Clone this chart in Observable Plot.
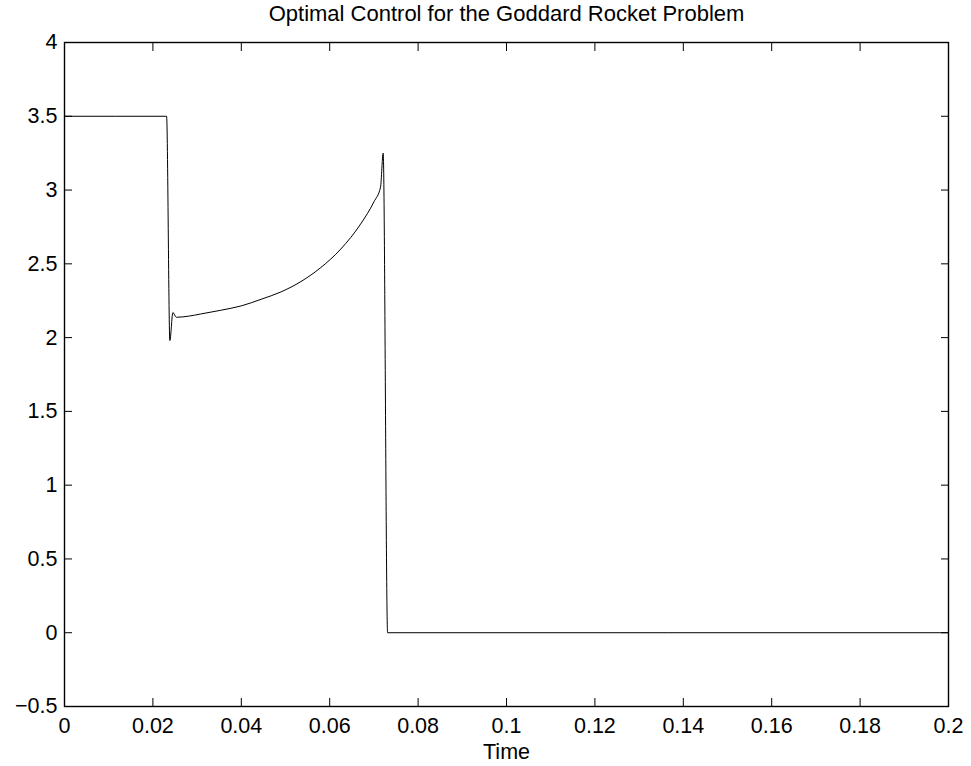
<!DOCTYPE html>
<html>
<head>
<meta charset="utf-8">
<script src="https://cdn.jsdelivr.net/npm/d3@7"></script>
<script src="https://cdn.jsdelivr.net/npm/@observablehq/plot@0.6"></script>
<style>
  html, body { margin: 0; padding: 0; background: #fff; }
  #chart { width: 971px; height: 766px; }
  #chart svg, #chart svg text { font-family: 'Liberation Sans', Arial, sans-serif; }
  #chart svg g[aria-label^="x-axis tick label"], #chart svg g[aria-label^="y-axis tick label"] { font-size: 21.5px; }
</style>
</head>
<body>
<div id="chart"></div>
<script>
const titleText = "Optimal Control for the Goddard Rocket Problem";
const xLabel = "Time";
const xTicks = [0, 0.02, 0.04, 0.06, 0.08, 0.1, 0.12, 0.14, 0.16, 0.18, 0.2];
const yTicks = [-0.5, 0, 0.5, 1, 1.5, 2, 2.5, 3, 3.5, 4];

const times = [0, 0.0231, 0.02384, 0.02452, 0.02529, 0.0280, 0.0308, 0.0353, 0.0400, 0.0445, 0.0490, 0.0535, 0.0580, 0.0625, 0.0670, 0.0700, 0.0715, 0.0721, 0.0731, 0.2];
const control = [3.5, 3.5, 1.98, 2.17, 2.138, 2.145, 2.16, 2.185, 2.215, 2.26, 2.31, 2.38, 2.475, 2.60, 2.77, 2.92, 3.02, 3.25, 0, 0];

const data = times.map((t, i) => ({t, u: control[i]}));

const fmtX = d => String(+d.toFixed(2));
const fmtY = d => (d < 0 ? "\u2212" : "") + String(Math.abs(d));

const plot = Plot.plot({
  width: 971,
  height: 766,
  marginLeft: 64,
  marginRight: 23,
  marginTop: 42,
  marginBottom: 60,
  style: {fontFamily: "'Liberation Sans', Arial, sans-serif", fontSize: "22px", color: "#000", background: "#fff"},
  x: {domain: [0, 0.2]},
  y: {domain: [-0.5, 4]},
  marks: [
    Plot.axisX({anchor: "bottom", ticks: xTicks, tickFormat: fmtX, tickSize: -8, tickPadding: 19, label: null, fontSize: 21.5}),
    Plot.axisX({anchor: "top", ticks: xTicks, tickFormat: () => "", tickSize: -8, label: null}),
    Plot.axisY({anchor: "left", ticks: yTicks, tickFormat: fmtY, tickSize: -8, tickPadding: 15, label: null, fontSize: 21.5}),
    Plot.axisY({anchor: "right", ticks: yTicks, tickFormat: () => "", tickSize: -8, label: null}),
    Plot.frame({stroke: "#000", strokeWidth: 1.4}),
    Plot.line(data, {x: "t", y: "u", stroke: "#000", strokeWidth: 1, curve: "monotone-x"}),
    Plot.text([titleText], {frameAnchor: "top", dy: -37, text: d => d, fontSize: 22, fill: "#000"}),
    Plot.text([xLabel], {frameAnchor: "bottom", lineAnchor: "bottom", dy: 52, text: d => d, fontSize: 21.5, fill: "#000"})
  ]
});
document.getElementById("chart").appendChild(plot);
</script>
</body>
</html>
